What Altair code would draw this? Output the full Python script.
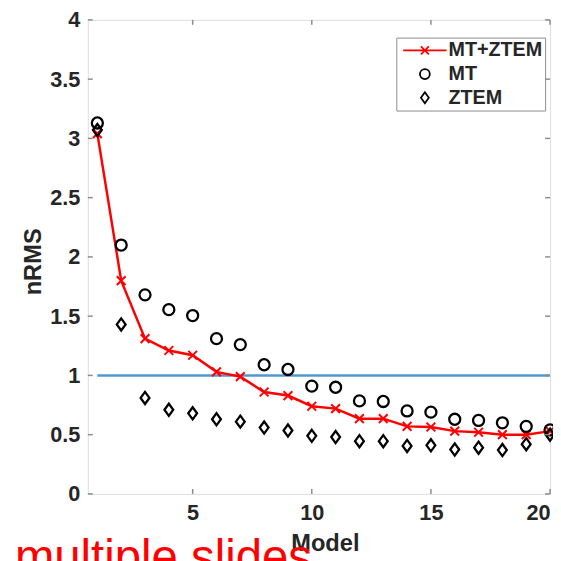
import altair as alt
import pandas as pd

# ---- data ----
models = list(range(1, 21))
mt_ztem = [3.04, 1.80, 1.31, 1.21, 1.17, 1.03, 0.99, 0.86, 0.83, 0.74,
           0.72, 0.635, 0.635, 0.57, 0.565, 0.53, 0.52, 0.50, 0.50, 0.53]
mt = [3.13, 2.10, 1.68, 1.555, 1.505, 1.31, 1.26, 1.09, 1.05, 0.91,
      0.90, 0.785, 0.78, 0.70, 0.69, 0.63, 0.62, 0.60, 0.57, 0.54]
ztem = [3.07, 1.43, 0.81, 0.71, 0.68, 0.63, 0.61, 0.56, 0.535, 0.49,
        0.48, 0.445, 0.445, 0.405, 0.41, 0.375, 0.39, 0.37, 0.42, 0.50]
series_names = ["MT+ZTEM", "MT", "ZTEM"]
x_ticks = [5, 10, 15, 20]
y_ticks = [0, 0.5, 1, 1.5, 2, 2.5, 3, 3.5, 4]
ref_start, ref_end, ref_level = 1, 20, 1.0
overlay_text = ["multiple slides"]

FONT = "Liberation Sans"
TXT = "#262626"
FRAME = "#8c8c8c"

combined_df = pd.DataFrame({"Model": models, "nRMS": mt_ztem})
points_df = pd.DataFrame({
    "Model": models + models,
    "nRMS": mt + ztem,
    "series": ["MT"] * len(models) + ["ZTEM"] * len(models),
})
ref_df = pd.DataFrame({"x": [ref_start], "x2": [ref_end], "y": [ref_level]})
xt_df = pd.DataFrame({"t": x_ticks})
yt_df = pd.DataFrame({"t": y_ticks})
txt_df = pd.DataFrame({"label": overlay_text})

CROSS = "M-0.75,-0.75L0.75,0.75M-0.75,0.75L0.75,-0.75"
LEG_LINE = "M-4.4,0H4.4M-0.8,-0.8L0.8,0.8M-0.8,0.8L0.8,-0.8"
DIAMOND = "M0,-1.1L0.8,0L0,1.1L-0.8,0Z"

xscale = alt.Scale(domain=[0.6, 20], nice=False, zero=False)
yscale = alt.Scale(domain=[0, 4], nice=False)

xaxis = alt.Axis(values=x_ticks, title="Model", grid=False, domain=False, ticks=False,
                 labelPadding=9, labelFontSize=22, labelFontWeight="bold", labelColor=TXT,
                 labelFont=FONT, titleFont=FONT, titleFontSize=24, titleFontWeight="bold",
                 titleColor=TXT, titleX=240.5, titleY=38, titleBaseline="top")
yaxis = alt.Axis(values=y_ticks, title="nRMS", format="~g", grid=False, domain=False, ticks=False,
                 labelPadding=8, labelFontSize=22, labelFontWeight="bold", labelColor=TXT,
                 labelFont=FONT, titleFont=FONT, titleFontSize=24, titleFontWeight="bold",
                 titleColor=TXT, titleX=-55.5, titleY=245, titleBaseline="middle")

legend = alt.Legend(title=None, orient="none", legendX=313, legendY=18,
                    strokeColor=FRAME, fillColor="white", padding=3, rowPadding=4,
                    symbolSize=100, symbolStrokeWidth=1.8, symbolOffset=16, labelOffset=14,
                    labelFont=FONT, labelFontSize=20, labelFontWeight="bold", labelColor=TXT)

ref = alt.Chart(ref_df).mark_rule(color="#4f97d1", strokeWidth=2.5).encode(
    x=alt.X("x:Q", scale=xscale, axis=xaxis),
    x2="x2:Q",
    y=alt.Y("y:Q", scale=yscale, axis=yaxis),
)

line = alt.Chart(combined_df).mark_line(color="#ff0000", strokeWidth=2.5).encode(
    x=alt.X("Model:Q", scale=xscale),
    y=alt.Y("nRMS:Q", scale=yscale),
)

crosses = alt.Chart(combined_df).mark_point(
    shape=CROSS, size=140, color="#ff0000", strokeWidth=2, filled=False, opacity=1
).encode(
    x=alt.X("Model:Q", scale=xscale),
    y=alt.Y("nRMS:Q", scale=yscale),
)

points = alt.Chart(points_df).mark_point(size=125, strokeWidth=2.3, filled=False, opacity=1).encode(
    x=alt.X("Model:Q", scale=xscale),
    y=alt.Y("nRMS:Q", scale=yscale),
    shape=alt.Shape("series:N", scale=alt.Scale(domain=series_names,
                                                range=[LEG_LINE, "circle", DIAMOND]),
                    legend=legend),
    stroke=alt.Stroke("series:N", scale=alt.Scale(domain=series_names,
                                                  range=["#ff0000", "#000000", "#000000"]),
                      legend=legend),
)

bt = alt.Chart(xt_df).mark_rule(color=FRAME, strokeWidth=1.5).encode(
    x=alt.X("t:Q", scale=xscale), y=alt.value(481), y2=alt.value(476))
tt = alt.Chart(xt_df).mark_rule(color=FRAME, strokeWidth=1.5).encode(
    x=alt.X("t:Q", scale=xscale), y=alt.value(0), y2=alt.value(5))
lt = alt.Chart(yt_df).mark_rule(color=FRAME, strokeWidth=1.5).encode(
    y=alt.Y("t:Q", scale=yscale), x=alt.value(0), x2=alt.value(5))
rt = alt.Chart(yt_df).mark_rule(color=FRAME, strokeWidth=1.5).encode(
    y=alt.Y("t:Q", scale=yscale), x=alt.value(469), x2=alt.value(464))

label = alt.Chart(txt_df).mark_text(
    align="left", baseline="alphabetic", font=FONT, fontSize=48, color="#ff0000"
).encode(x=alt.value(-74), y=alt.value(561), text="label:N")

chart = alt.layer(ref, line, crosses, points, bt, tt, lt, rt, label).properties(
    width=469, height=481,
    autosize=alt.AutoSizeParams(type="none"),
    padding={"left": 81, "top": 8, "right": 3, "bottom": 64},
).configure_view(
    stroke=FRAME, strokeWidth=2
).configure_legend(
    strokeWidth=2
).configure(background="white")

chart.save("out.html", embed_options={"renderer": "svg", "actions": False})
